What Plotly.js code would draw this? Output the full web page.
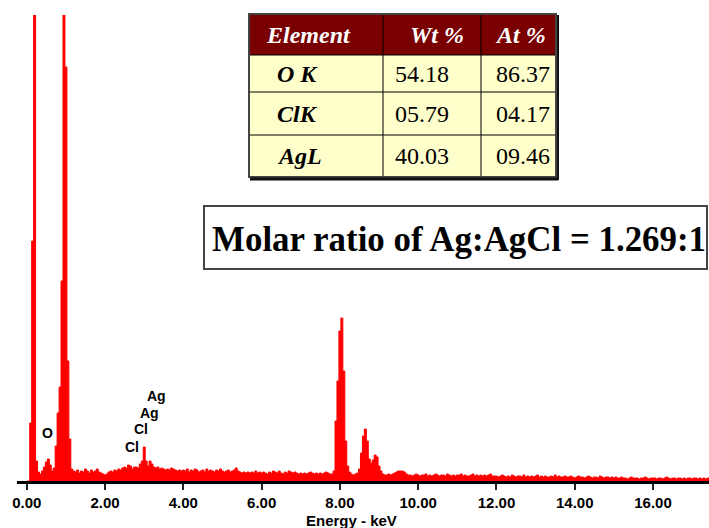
<!DOCTYPE html>
<html>
<head>
<meta charset="utf-8">
<script src="https://cdn.plot.ly/plotly-3.0.1.min.js"></script>
<style>html,body{margin:0;padding:0;background:#fff;}#chart{width:709px;height:528px;}</style>
</head>
<body>
<div id="chart"></div>
<script>
// ---- Spectrum counts (arbitrary units), bins of 0.05 keV starting at 0 keV ----
const countsLow   = [0,0,58,240,480,20,9,7,10,14,19,22,16,10,13,35,68,94,200,480,414,120,42,12]; // 0.00-1.15 keV
const countsClAg  = [10,9,11,8,10,9,12,10,8,11, 9,10,12,9,8,7,6,7,9,10, 9,11,10,12,11,13,14,13,16,15,
                     12,14,14,13,17,20,34,20,15,20, 17,14,13,14,12,13,12,11,12,11, 13,12,11,10,11,10]; // 1.20-3.95
const countsMid   = [11,10,12,9,11,10,12,11,9,10, 11,9,12,10,11,10,9,11,10,12, 10,9,10,11,9,10,11,13,10,9,
                     8,9,8,9,8,9,8,10,8,9, 8,9,8,7,9,8,10,9,8,10, 8,7,9,8,10,9,8,9,8,7,
                     8,7,8,7,8,9,8,7,8,7, 8,7,8,9,8,7,7,10]; // 4.00-7.85
const countsCu    = [60,100,150,163,110,40,15,9,7,6, 7,8,12,28,45,52,40,22,18,21,
                     26,24,15,10,7,6,6,7,6,7, 8,9,10,10,10,9,7,6]; // 7.90-9.75
const countsHigh1 = [6,5,6,7,6,5,6,6,7,5, 6,5,6,7,6,5,6,6,5,7, 6,5,6,5,6,6,7,5,6,5, 5,6,7,5,6,5,6,5,6,5, 6,7,5,5]; // 9.80-11.95
const countsHigh2 = [5,4,5,6,5,4,5,4,6,5, 4,5,5,4,6,4,5,4,5,4, 5,6,4,5,4,5,4,4,5,4, 6,4,5,4,4,5,4,4,5,4,
                     3,4,5,4,4,3,4,5,4,3, 4,4,3,5,4,3,4,4,3,4]; // 12.00-14.95
const countsHigh3 = [3,4,3,3,4,3,3,2,3,4, 3,3,3,2,3,3,4,3,2,3, 3,3,2,3,3,2,3,4,3,2, 3,3,2,3,3,2,3,2,3,3, 2,3,3,2,3,2,3,2,3,2]; // 15.00-17.45
const binStartKeV = 0;
const binWidthKeV = 0.05;

// ---- Peak labels ----
const peakLabels = ['O', 'Cl', 'Cl', 'Ag', 'Ag'];
const peakLabelKeV = [0.52, 2.70, 2.91, 3.13, 3.32];
const peakLabelY = [48, 34, 52, 68, 85];

// ---- Table ----
const tableHeader = ['Element', 'Wt %', 'At %'];
const tableElements = ['O K', 'ClK', 'AgL'];
const tableWt = ['54.18', '05.79', '40.03'];
const tableAt = ['86.37', '04.17', '09.46'];
const ratioText = 'Molar ratio of Ag:AgCl = 1.269:1';
const xTitle = 'Energy - keV';

const counts = [].concat(countsLow, countsClAg, countsMid, countsCu, countsHigh1, countsHigh2, countsHigh3);

// pixel -> paper helpers (plot area: x 17..709, y 15..481)
const PL = 17, PW = 692, PB = 481, PH = 466;
const X = p => (p - PL) / PW;
const Y = p => (PB - p) / PH;

const shapes = [];
const annotations = [];

// table geometry
const colEdges = [249, 383, 481, 556];
const rowEdges = [14, 55, 92, 135, 177];
shapes.push({type:'rect', xref:'paper', yref:'paper', x0:X(colEdges[0]), x1:X(colEdges[3]), y0:Y(rowEdges[0]), y1:Y(rowEdges[1]), fillcolor:'#7a0000', line:{width:0}});
shapes.push({type:'rect', xref:'paper', yref:'paper', x0:X(colEdges[0]), x1:X(colEdges[3]), y0:Y(rowEdges[1]), y1:Y(rowEdges[4]), fillcolor:'#ffffcc', line:{width:0}});
for (let r = 1; r < rowEdges.length - 1; r++) {
  shapes.push({type:'line', xref:'paper', yref:'paper', x0:X(colEdges[0]), x1:X(colEdges[3]), y0:Y(rowEdges[r]), y1:Y(rowEdges[r]), line:{color:'#000', width:1}});
}
for (let c = 1; c < colEdges.length - 1; c++) {
  shapes.push({type:'line', xref:'paper', yref:'paper', x0:X(colEdges[c]), x1:X(colEdges[c]), y0:Y(rowEdges[0]), y1:Y(rowEdges[4]), line:{color:'#000', width:1}});
}
shapes.push({type:'rect', xref:'paper', yref:'paper', x0:X(colEdges[0]), x1:X(colEdges[3]), y0:Y(rowEdges[0]), y1:Y(rowEdges[4]), line:{color:'#444', width:2}});
shapes.push({type:'line', xref:'paper', yref:'paper', x0:X(colEdges[0]+1), x1:X(colEdges[3]+2), y0:Y(rowEdges[4]+2), y1:Y(rowEdges[4]+2), line:{color:'#111', width:3}});
shapes.push({type:'line', xref:'paper', yref:'paper', x0:X(colEdges[3]+2), x1:X(colEdges[3]+2), y0:Y(rowEdges[0]+1), y1:Y(rowEdges[4]+3), line:{color:'#111', width:2}});

const serif = 'Liberation Serif, Times New Roman, serif';
const headerX = [264, 408, 493];
tableHeader.forEach((t, i) => annotations.push({xref:'paper', yref:'paper', x:X(headerX[i]), y:Y((rowEdges[0]+rowEdges[1])/2), text:t, showarrow:false, xanchor:'left', yanchor:'middle',
  font:{family:serif, size:24, color:'#fff', weight:'bold', style:'italic'}}));
const bodyCols = [tableElements, tableWt, tableAt];
const bodyX = [275, 393, 494];
bodyCols.forEach((col, c) => col.forEach((t, r) => annotations.push({xref:'paper', yref:'paper', x:X(bodyX[c]), y:Y((rowEdges[r+1]+rowEdges[r+2])/2), text:t, showarrow:false, xanchor:'left', yanchor:'middle',
  font: c === 0 ? {family:serif, size:24, color:'#000', weight:'bold', style:'italic'} : {family:serif, size:24, color:'#000'}})));

// molar ratio box
shapes.push({type:'rect', xref:'paper', yref:'paper', x0:X(204), x1:X(707), y0:Y(206), y1:Y(269), fillcolor:'#fff', line:{color:'#444', width:2}});
annotations.push({xref:'paper', yref:'paper', x:X(210), y:Y(239), text:ratioText, showarrow:false, xanchor:'left', yanchor:'middle',
  font:{family:serif, size:34.9, color:'#000', weight:'bold'}});

// peak labels
peakLabels.forEach((t, i) => annotations.push({xref:'x', yref:'y', x:peakLabelKeV[i], y:peakLabelY[i], text:t, showarrow:false, xanchor:'center', yanchor:'middle',
  font:{family:'Liberation Sans, Arial, sans-serif', size:14, color:'#000', weight:'bold'}}));

// x axis title
annotations.push({xref:'paper', yref:'paper', x:X(351), y:Y(520), text:xTitle, showarrow:false, xanchor:'center', yanchor:'middle',
  font:{family:'Liberation Sans, Arial, sans-serif', size:15, color:'#000', weight:'bold'}});

const trace = {
  type:'scatter', mode:'lines', x0:binStartKeV, dx:binWidthKeV, y:counts,
  line:{color:'#ff0000', width:1, shape:'hvh'}, fill:'tozeroy', fillcolor:'#ff0000', hoverinfo:'skip'
};

const layout = {
  width:709, height:528, margin:{l:PL, r:0, t:15, b:528-PB, pad:0},
  paper_bgcolor:'#fff', plot_bgcolor:'#fff', showlegend:false,
  xaxis:{range:[-0.25, 17.43], tick0:0, dtick:2, tickformat:'.2f', showgrid:false, zeroline:false,
    showline:true, linecolor:'#000', linewidth:3, ticks:'outside', ticklen:6, tickwidth:2, tickcolor:'#222',
    tickfont:{family:'Liberation Sans, Arial, sans-serif', size:15, color:'#000', weight:'bold'}, fixedrange:true},
  yaxis:{range:[0, PH], visible:false, fixedrange:true},
  shapes:shapes, annotations:annotations
};

Plotly.newPlot('chart', [trace], layout, {staticPlot:true, displayModeBar:false});
</script>
</body>
</html>
